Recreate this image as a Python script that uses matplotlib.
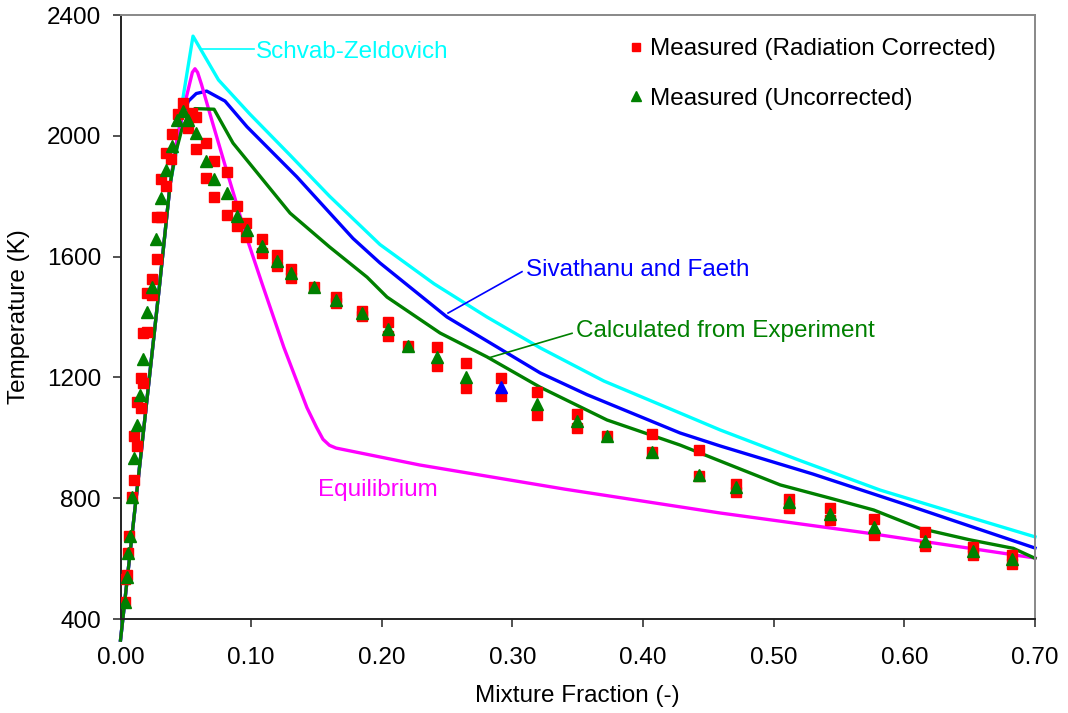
import matplotlib
matplotlib.use("Agg")
import matplotlib.pyplot as plt
from matplotlib.lines import Line2D

plt.rcParams['font.family'] = ['Liberation Sans', 'DejaVu Sans']

# ---- model curves ----
sz_x = [0.0, 0.030, 0.038, 0.0433, 0.0463, 0.0555, 0.075, 0.099, 0.13, 0.16, 0.1986, 0.24, 0.2805, 0.3212, 0.37, 0.4283, 0.459, 0.52, 0.5814, 0.64, 0.70]
sz_T = [330, 1510, 1840, 1960, 2085, 2330, 2185, 2072, 1935, 1800, 1640, 1510, 1400, 1298, 1188, 1082, 1026, 925, 827, 750, 672]

sf_x = [0.0, 0.030, 0.038, 0.042, 0.047, 0.052, 0.058, 0.066, 0.08, 0.0968, 0.135, 0.178, 0.1986, 0.2499, 0.3212, 0.357, 0.4283, 0.459, 0.530, 0.6066, 0.70]
sf_T = [330, 1510, 1840, 1950, 2060, 2115, 2140, 2148, 2115, 2030, 1864, 1660, 1579, 1400, 1215, 1143, 1016, 973, 880, 771, 635]

ce_x = [0.0, 0.030, 0.038, 0.042, 0.0468, 0.052, 0.057, 0.0716, 0.0861, 0.1298, 0.160, 0.1887, 0.204, 0.2446, 0.2805, 0.321, 0.3724, 0.4283, 0.4666, 0.505, 0.5433, 0.5765, 0.612, 0.6503, 0.6834, 0.70]
ce_T = [330, 1510, 1840, 1940, 2019, 2070, 2090, 2088, 1976, 1744, 1632, 1532, 1466, 1347, 1268, 1168, 1059, 976, 910, 844, 800, 761, 700, 662, 634, 601]

eq_x = [0.0, 0.030, 0.038, 0.0433, 0.050, 0.0525, 0.055, 0.057, 0.059, 0.062, 0.07, 0.08, 0.0968, 0.1084, 0.125, 0.1427, 0.150, 0.155, 0.160, 0.165, 0.229, 0.34, 0.459, 0.571, 0.70]
eq_T = [330, 1510, 1840, 1990, 2120, 2165, 2210, 2222, 2210, 2170, 2050, 1903, 1660, 1510, 1300, 1100, 1035, 995, 975, 966, 910, 830, 751, 685, 602]

# ---- measurements ----
rad_x = [0.0034, 0.0034, 0.0047, 0.006, 0.0067, 0.0086, 0.0103, 0.0103, 0.0129, 0.0129,
         0.0155, 0.0155, 0.0175, 0.0175, 0.0205, 0.0205, 0.0243, 0.0243, 0.0277, 0.0277,
         0.0308, 0.0308, 0.0348, 0.0346, 0.0387, 0.0392, 0.0443, 0.0476, 0.0519, 0.0545,
         0.0578, 0.0578, 0.0652, 0.0652, 0.0716, 0.0716, 0.0813, 0.0813, 0.0894, 0.0894,
         0.0961, 0.0961, 0.108, 0.108, 0.12, 0.12, 0.1305, 0.1305, 0.148, 0.165,
         0.165, 0.1846, 0.1846, 0.2045, 0.2045, 0.2203, 0.2425, 0.2425, 0.2642, 0.2642,
         0.2913, 0.2913, 0.319, 0.319, 0.3497, 0.3497, 0.3722, 0.4071, 0.4071, 0.4428,
         0.4428, 0.4709, 0.4709, 0.5117, 0.5117, 0.5429, 0.5429, 0.5768, 0.5768, 0.6158,
         0.6158, 0.6523, 0.6523, 0.6826, 0.6826]
rad_T = [455, 532, 545, 618, 676, 803, 861, 1007, 973, 1120,
         1098, 1197, 1180, 1348, 1351, 1478, 1472, 1525, 1591, 1730,
         1732, 1858, 1835, 1942, 1922, 2006, 2071, 2107, 2025, 2074,
         2061, 1955, 1975, 1859, 1917, 1796, 1880, 1737, 1769, 1701,
         1710, 1666, 1657, 1613, 1605, 1569, 1558, 1528, 1500, 1467,
         1445, 1421, 1402, 1384, 1337, 1304, 1300, 1238, 1247, 1165,
         1197, 1138, 1150, 1074, 1079, 1031, 1006, 1012, 952, 960,
         874, 847, 822, 797, 767, 767, 728, 731, 678, 687,
         643, 640, 612, 612, 582]

unc_x = [0.0034, 0.0047, 0.006, 0.0073, 0.0086, 0.0103, 0.0124, 0.0149, 0.0175, 0.0205,
         0.0243, 0.0272, 0.0308, 0.0348, 0.0392, 0.043, 0.0476, 0.0519, 0.0578, 0.0652,
         0.0716, 0.0813, 0.0894, 0.0966, 0.108, 0.12, 0.1305, 0.148, 0.165, 0.1846,
         0.2045, 0.2203, 0.2425, 0.2642, 0.319, 0.3497, 0.3722, 0.4071, 0.4428, 0.4709,
         0.5117, 0.5429, 0.5768, 0.6158, 0.6523, 0.6826]
unc_T = [457, 540, 618, 675, 803, 932, 1042, 1142, 1260, 1415,
         1500, 1657, 1793, 1887, 1966, 2052, 2083, 2052, 2008, 1918,
         1857, 1810, 1734, 1688, 1634, 1587, 1545, 1500, 1456, 1412,
         1359, 1304, 1269, 1202, 1112, 1056, 1006, 952, 878, 836,
         786, 747, 706, 659, 625, 599]

odd_x = [0.2913]
odd_T = [1167]

fig = plt.figure(figsize=(10.68, 7.13), dpi=100)
ax = fig.add_axes([120.5 / 1068, 1 - 619 / 713, (1035 - 120.5) / 1068, (619 - 15) / 713])

lw = 2.4
ax.plot(sz_x, sz_T, color='#00FFFF', lw=lw, clip_on=False, zorder=2)
ax.plot(sf_x, sf_T, color='#0000FF', lw=lw, clip_on=False, zorder=2)
ax.plot(eq_x, eq_T, color='#FF00FF', lw=lw, clip_on=False, zorder=2)
ax.plot(ce_x, ce_T, color='#008000', lw=lw, clip_on=False, zorder=2)

ax.plot(rad_x, rad_T, ls='none', marker='s', ms=7.5, color='#FF0000', mec='#FF0000', zorder=3)
ax.plot(unc_x, unc_T, ls='none', marker='^', ms=8, color='#008000', mec='#008000', zorder=4)
ax.plot(odd_x, odd_T, ls='none', marker='^', ms=8, color='#0000FF', mec='#0000FF', zorder=4)

ax.set_xlim(0, 0.70)
ax.set_ylim(400, 2400)
ax.set_xticks([0.0, 0.1, 0.2, 0.3, 0.4, 0.5, 0.6, 0.7])
ax.set_xticklabels(['0.00', '0.10', '0.20', '0.30', '0.40', '0.50', '0.60', '0.70'])
ax.set_yticks([400, 800, 1200, 1600, 2000, 2400])
fs = 17.5
ax.tick_params(axis='both', labelsize=fs, direction='out', length=6, width=1.2, color='#333333')
ax.tick_params(axis='x', pad=14)
ax.tick_params(axis='y', pad=8)

for s in ['left', 'bottom']:
    ax.spines[s].set_color('#222222')
    ax.spines[s].set_linewidth(1.4)
for s in ['top', 'right']:
    ax.spines[s].set_color('#888888')
    ax.spines[s].set_linewidth(1.4)

ax.set_xlabel('Mixture Fraction (-)', fontsize=fs, labelpad=12)
ax.set_ylabel('Temperature (K)', fontsize=fs, labelpad=12)

# annotations
ax.plot([0.0627, 0.1025], [2287, 2287], color='#00FFFF', lw=1.2)
ax.text(0.1035, 2277, 'Schvab-Zeldovich', color='#00FFFF', fontsize=fs, va='center', ha='left')
ax.plot([0.2507, 0.3073], [1413, 1550], color='#0000FF', lw=1.2)
ax.text(0.3106, 1555, 'Sivathanu and Faeth', color='#0000FF', fontsize=fs, va='center', ha='left')
ax.plot([0.2813, 0.3456], [1264, 1346], color='#008000', lw=1.2)
ax.text(0.3490, 1352, 'Calculated from Experiment', color='#008000', fontsize=fs, va='center', ha='left')
ax.text(0.151, 826, 'Equilibrium', color='#FF00FF', fontsize=fs, va='center', ha='left')

handles = [Line2D([], [], ls='none', marker='s', ms=6, color='#FF0000'),
           Line2D([], [], ls='none', marker='^', ms=6.5, color='#008000')]
ax.legend(handles, ['Measured (Radiation Corrected)', 'Measured (Uncorrected)'],
          loc='upper left', bbox_to_anchor=((626 - 120.5) / 914.5, 1.0 - (38 - 15) / 604),
          frameon=False, fontsize=fs, handlelength=0.8, handletextpad=0.18,
          labelspacing=1.15, borderaxespad=0, borderpad=0)

fig.savefig('out.png', dpi=100)
